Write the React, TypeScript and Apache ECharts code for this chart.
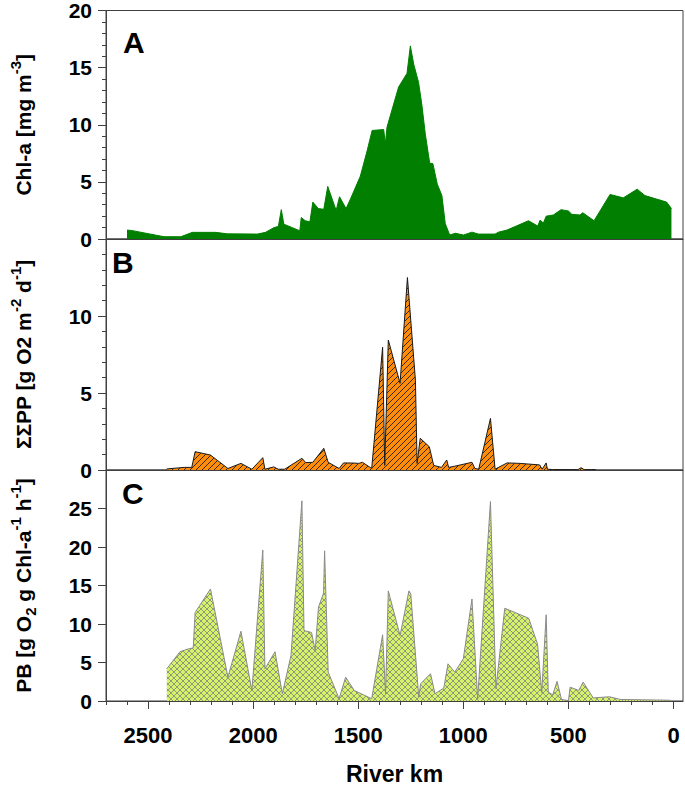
import React, { useEffect, useRef } from 'react';
import * as echarts from 'echarts';

const FF = '"Liberation Sans", Arial, sans-serif';

// Panel A: Chl-a [mg m-3] vs river km
const chlData: number[][] = [
  [2600, 0.78], [2580, 0.75], [2424, 0.2], [2344, 0.2], [2289, 0.58], [2178, 0.58], [2123, 0.45],
  [1980, 0.43], [1941, 0.58], [1900, 1.0], [1880, 1.1], [1866, 2.57], [1854, 1.3], [1778, 0.72],
  [1771, 1.88], [1752, 1.6], [1730, 1.5], [1716, 3.23], [1690, 2.66], [1664, 2.6], [1645, 4.6],
  [1605, 2.5], [1589, 3.7], [1558, 2.66], [1537, 3.5], [1490, 5.5], [1458, 7.7], [1434, 9.5],
  [1379, 9.58], [1371, 8.34], [1363, 9.8], [1308, 13.3], [1268, 14.5], [1252, 16.9], [1236, 15.3],
  [1213, 13.7], [1197, 11.7], [1181, 9.2], [1160, 6.64], [1145, 6.6], [1124, 4.8], [1102, 3.8],
  [1086, 1.35], [1065, 0.35], [1038, 0.5], [999, 0.35], [959, 0.6], [928, 0.43], [849, 0.43],
  [833, 0.6], [793, 0.78], [746, 1.15], [690, 1.6], [646, 1.13], [635, 1.65], [619, 1.4],
  [606, 2.0], [572, 2.1], [535, 2.57], [500, 2.45], [484, 2.16], [445, 2.1], [432, 2.3],
  [378, 1.6], [302, 3.9], [239, 3.6], [173, 4.36], [136, 3.8], [33, 3.23], [10, 2.66],
];

// Panel B: ΣΣPP [g O2 m-2 d-1]
const ppData: number[][] = [
  [2411, 0.07], [2328, 0.17], [2292, 0.17], [2276, 1.19], [2203, 0.97], [2120, 0.1], [2058, 0.43],
  [2006, 0.05], [1954, 0.8], [1944, 0.05], [1902, 0.2], [1880, 0.05], [1850, 0.05], [1768, 0.76],
  [1750, 0.48], [1716, 0.5], [1664, 1.41], [1643, 0.5], [1591, 0.1], [1570, 0.46], [1520, 0.45],
  [1498, 0.43], [1480, 0.5], [1436, 0.1], [1384, 7.97], [1374, 0.3], [1357, 8.44], [1301, 5.63],
  [1266, 12.5], [1228, 5.84], [1220, 0.43], [1205, 2.06], [1162, 1.51], [1141, 0.3], [1104, 0.17],
  [1079, 0.65], [1070, 0.17], [1040, 0.25], [959, 0.5], [945, 0.1], [927, 0.05], [871, 3.35],
  [849, 0.05], [792, 0.46], [730, 0.43], [637, 0.33], [625, 0.05], [606, 0.46], [600, 0.05],
  [575, 0.03], [565, 0.03], [455, 0.02], [440, 0.15], [425, 0.02], [390, 0.03], [370, 0.03],
];

// Panel C: PB [g O2 g Chl-a-1 h-1]
const pbData: number[][] = [
  [2411, 4.18], [2348, 6.4], [2307, 6.77], [2285, 6.9], [2276, 11.5], [2203, 14.55], [2120, 3.1],
  [2058, 9.06], [2006, 1.37], [1954, 19.6], [1944, 4.18], [1896, 6.4], [1861, 0.95], [1820, 5.9],
  [1768, 26.0], [1758, 9.15], [1722, 8.9], [1705, 6.55], [1689, 12.2], [1665, 14.0], [1660, 19.5],
  [1643, 3.75], [1591, 0.3], [1560, 3.1], [1519, 1.37], [1436, 0.3], [1384, 8.6], [1370, 0.95],
  [1357, 14.3], [1301, 8.5], [1259, 14.3], [1250, 13.9], [1212, 0.5], [1203, 2.24], [1156, 3.54],
  [1135, 0.95], [1093, 1.68], [1073, 4.83], [1041, 3.75], [1000, 5.5], [959, 13.25], [932, 0.3],
  [871, 25.9], [845, 1.6], [803, 12.05], [689, 10.75], [647, 7.4], [627, 1.1], [606, 11.2],
  [596, 1.16], [575, 0.8], [554, 2.55], [533, 0.2], [500, 0.05], [492, 1.8], [451, 1.37],
  [430, 2.46], [382, 0.4], [305, 0.55], [253, 0.2], [15, 0.1],
];

const xMajorTicks = [0, 500, 1000, 1500, 2000, 2500];
const xMinorTicks = [100, 200, 300, 400, 600, 700, 800, 900, 1100, 1200, 1300, 1400, 1600, 1700, 1800, 1900, 2100, 2200, 2300, 2400, 2600, 2700];

const panelLetters = ['A', 'B', 'C'];

function hatch(bg: string, line: string, size: number, cross: boolean) {
  const c = document.createElement('canvas');
  c.width = size;
  c.height = size;
  const g = c.getContext('2d')!;
  g.fillStyle = bg;
  g.fillRect(0, 0, size, size);
  g.strokeStyle = line;
  g.lineWidth = 1;
  g.beginPath();
  g.moveTo(-1, size + 1); g.lineTo(size + 1, -1);
  g.moveTo(-1, 1); g.lineTo(1, -1);
  g.moveTo(size - 1, size + 1); g.lineTo(size + 1, size - 1);
  if (cross) {
    g.moveTo(-1, -1); g.lineTo(size + 1, size + 1);
    g.moveTo(size - 1, -1); g.lineTo(size + 1, 1);
    g.moveTo(-1, size - 1); g.lineTo(1, size + 1);
  }
  g.stroke();
  return { image: c, repeat: 'repeat', imageWidth: size, imageHeight: size };
}

const AX = '#404040';
const nameRich = {
  n: { fontSize: 21, fontWeight: 'bold', fontFamily: FF, color: '#000', lineHeight: 30 },
  sup: { fontSize: 15, fontWeight: 'bold', fontFamily: FF, color: '#000', verticalAlign: 'top', lineHeight: 30 },
  sub: { fontSize: 15, fontWeight: 'bold', fontFamily: FF, color: '#000', verticalAlign: 'bottom', lineHeight: 30 },
};

function yAxis(grid: number, max: number, name: string, minor: boolean) {
  return {
    gridIndex: grid,
    type: 'value',
    position: 'left',
    min: 0,
    max,
    interval: 5,
    name,
    nameLocation: 'middle',
    nameGap: 68,
    nameTextStyle: { rich: nameRich },
    axisLine: { show: true, onZero: false, lineStyle: { color: AX, width: 1 } },
    axisTick: { show: true, length: 8, lineStyle: { color: AX } },
    minorTick: { show: minor, splitNumber: 5, length: 4, lineStyle: { color: AX } },
    splitLine: { show: false },
    minorSplitLine: { show: false },
    axisLabel: {
      show: true, margin: 14, fontSize: 21, fontWeight: 'bold', fontFamily: FF, color: '#000',
      showMaxLabel: grid === 0,
      formatter: (v: number) => String(v),
    },
  };
}

function xAxis(grid: number) {
  return {
    gridIndex: grid,
    type: 'value',
    position: 'bottom',
    min: -45,
    max: 2700,
    inverse: true,
    axisLine: { show: true, onZero: false, lineStyle: { color: AX, width: 1 } },
    axisTick: { show: false },
    minorTick: { show: false },
    axisLabel: { show: false },
    splitLine: { show: false },
  };
}

export default function App() {
  const ref = useRef<HTMLDivElement>(null);
  useEffect(() => {
    document.body.style.margin = '0';
    const chart = echarts.init(ref.current!, null, { renderer: 'svg' });
    const patB = hatch('#ff8c0a', '#3d2a08', 6, false);
    const patC = hatch('#d6f26a', '#8e9a78', 6, true);
    const gridBase = { left: 105, width: 578, show: true, borderColor: AX, borderWidth: 1, backgroundColor: 'transparent' };
    const option: any = {
      animation: false,
      backgroundColor: '#fff',
      grid: [
        { ...gridBase, top: 8, height: 231 },
        { ...gridBase, top: 239, height: 231 },
        { ...gridBase, top: 470, height: 232 },
      ],
      xAxis: [
        xAxis(0),
        xAxis(1),
        {
          ...xAxis(2),
          axisTick: { show: true, length: 8, customValues: xMajorTicks, lineStyle: { color: AX } },
          axisLabel: {
            show: true, customValues: xMajorTicks, margin: 23, fontSize: 22, fontWeight: 'bold',
            fontFamily: FF, color: '#000', formatter: (v: number) => String(v),
          },
          name: 'River km',
          nameLocation: 'middle',
          nameGap: 61,
          nameTextStyle: { fontSize: 23, fontWeight: 'bold', fontFamily: FF, color: '#000' },
        },
        {
          ...xAxis(2),
          axisLine: { show: false, onZero: false },
          axisTick: { show: true, length: 4, customValues: xMinorTicks, lineStyle: { color: AX } },
          axisLabel: { show: false },
        },
      ],
      yAxis: [
        yAxis(0, 20, '{n|Chl-a [mg m}{sup|-3}{n|]}', true),
        yAxis(1, 15, '{n|ΣΣPP [g O2 m}{sup|-2}{n| d}{sup|-1}{n|]}', true),
        yAxis(2, 30, '{n|PB [g O}{sub|2}{n| g Chl-a}{sup|-1}{n| h}{sup|-1}{n|]}', false),
      ],
      series: [
        {
          type: 'line', xAxisIndex: 0, yAxisIndex: 0, data: chlData, showSymbol: false,
          lineStyle: { color: '#007f00', width: 1 }, areaStyle: { color: '#007f00', opacity: 1 },
        },
        {
          type: 'line', xAxisIndex: 1, yAxisIndex: 1, data: ppData, showSymbol: false,
          lineStyle: { color: '#1a1a1a', width: 1 }, areaStyle: { color: patB, opacity: 1 },
        },
        {
          type: 'line', xAxisIndex: 2, yAxisIndex: 2, data: pbData, showSymbol: false,
          lineStyle: { color: '#8a8a8a', width: 1 }, areaStyle: { color: patC, opacity: 1 },
        },
      ],
      graphic: [
        { type: 'text', x: 123, y: 42, style: { text: panelLetters[0], font: `bold 30px ${FF}`, fill: '#000', textVerticalAlign: 'middle' } },
        { type: 'text', x: 112, y: 262, style: { text: panelLetters[1], font: `bold 30px ${FF}`, fill: '#000', textVerticalAlign: 'middle' } },
        { type: 'text', x: 122, y: 493, style: { text: panelLetters[2], font: `bold 30px ${FF}`, fill: '#000', textVerticalAlign: 'middle' } },
      ],
    };
    chart.setOption(option);
    return () => chart.dispose();
  }, []);
  return <div ref={ref} style={{ position: 'fixed', left: 0, top: 0, width: 685, height: 786 }} />;
}
